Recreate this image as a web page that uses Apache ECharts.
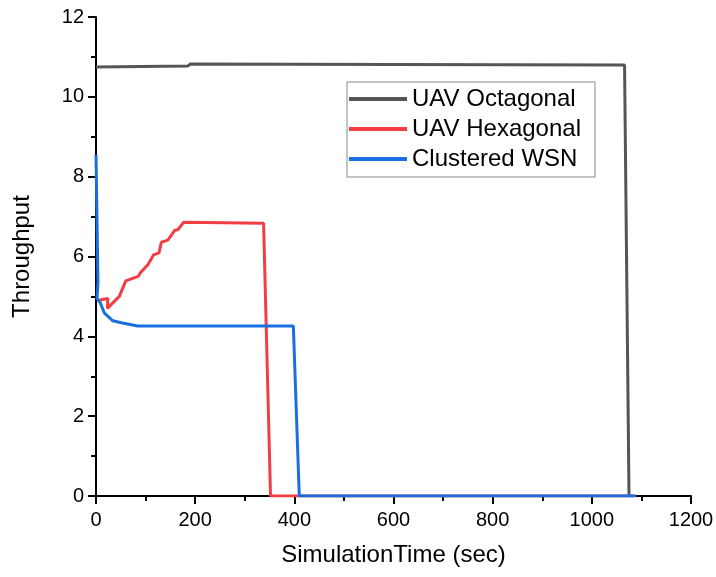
<!DOCTYPE html>
<html>
<head>
<meta charset="utf-8">
<script src="https://cdn.jsdelivr.net/npm/echarts@6/dist/echarts.min.js"></script>
<style>html,body{margin:0;padding:0;background:#fff}#c{width:716px;height:577px}</style>
</head>
<body>
<div id="c"></div>
<script>
const seriesNames = ['UAV Octagonal', 'UAV Hexagonal', 'Clustered WSN'];
const octagonal = [[0,10.75],[185,10.77],[190,10.82],[600,10.81],[1066,10.80],[1075,0]];
const hexagonal = [[4,4.9],[16,4.93],[24,4.95],[23,4.7],[47,5.0],[60,5.39],[85,5.5],[90,5.6],[105,5.8],[116,6.04],[127,6.09],[132,6.36],[145,6.41],[159,6.66],[165,6.67],[177,6.86],[338,6.83],[352,0],[1085,0]];
const clustered = [[0,8.55],[4,5.35],[2,4.95],[9,4.83],[17,4.58],[34,4.39],[51,4.34],[84,4.26],[398,4.26],[410,0],[1089,0]];
const xTicks = [0,200,400,600,800,1000,1200];
const yTicks = [0,2,4,6,8,10,12];
const colors = ['#555555', '#f23d44', '#1a6fe0'];

const chart = echarts.init(document.getElementById('c'));
const font = 'Liberation Sans, Arial, sans-serif';
const axisCommon = {
  axisLine: {show: true, lineStyle: {color: '#000', width: 2}},
  axisTick: {show: true, inside: false, length: 8, lineStyle: {color: '#000', width: 2}},
  minorTick: {show: true, splitNumber: 2, length: 5, lineStyle: {color: '#000', width: 2}},
  splitLine: {show: false},
  axisLabel: {color: '#000', fontSize: 20, fontFamily: font, formatter: v => String(v)},
  nameTextStyle: {color: '#000', fontSize: 24, fontFamily: font}
};
chart.setOption({
  animation: false,
  color: colors,
  grid: {left: 96, right: 25, top: 17, bottom: 81, containLabel: false, outerBoundsMode: 'none'},
  xAxis: Object.assign({}, axisCommon, {
    type: 'value', min: xTicks[0], max: xTicks[xTicks.length-1], interval: 200,
    name: 'SimulationTime (sec)', nameLocation: 'middle', nameGap: 47,
    axisLabel: Object.assign({}, axisCommon.axisLabel, {margin: 14})
  }),
  yAxis: Object.assign({}, axisCommon, {
    type: 'value', min: yTicks[0], max: yTicks[yTicks.length-1], interval: 2,
    name: 'Throughput', nameLocation: 'middle', nameGap: 62,
    axisLabel: Object.assign({}, axisCommon.axisLabel, {margin: 12})
  }),
  legend: {
    orient: 'vertical', left: 347, top: 82,
    data: seriesNames.map(n => ({name: n, icon: 'rect'})),
    itemWidth: 58, itemHeight: 4, itemGap: 6,
    padding: [5, 14, 6, 2],
    borderColor: '#888', borderWidth: 1,
    textStyle: {color: '#000', fontSize: 24, fontFamily: font, padding: [0,0,0,0]}
  },
  series: [
    {name: seriesNames[0], type: 'line', data: octagonal, symbol: 'none', lineStyle: {width: 3}, z: 2},
    {name: seriesNames[1], type: 'line', data: hexagonal, symbol: 'none', lineStyle: {width: 3}, z: 3},
    {name: seriesNames[2], type: 'line', data: clustered, symbol: 'none', lineStyle: {width: 3}, z: 4}
  ]
});
</script>
</body>
</html>
